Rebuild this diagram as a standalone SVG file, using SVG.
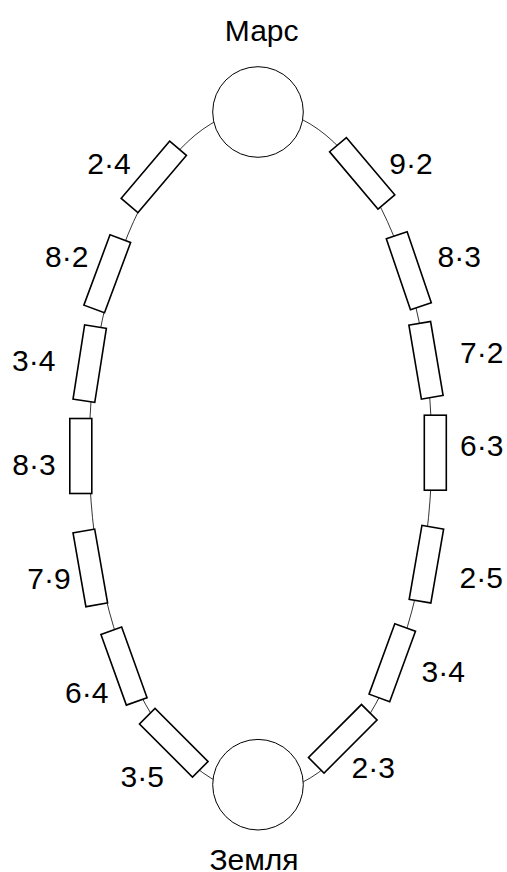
<svg xmlns="http://www.w3.org/2000/svg" width="507" height="872" viewBox="0 0 507 872">
<style>
.lbl{font-family:"Liberation Sans",Arial,sans-serif;font-size:30px;fill:#000;text-anchor:middle}
.seg{fill:#fff;stroke:#000;stroke-width:1.6}
.planet{fill:#fff;stroke:#000;stroke-width:1}
.orbit{fill:none;stroke:#000;stroke-width:0.8}
</style>
<defs>
<rect id="r" class="seg" x="-11" y="-37.5" width="22" height="75"/>
</defs>
<rect width="507" height="872" fill="#fff"/>
<g id="connectors">
<ellipse class="orbit" cx="260.5" cy="451" rx="171.3" ry="341.7"/>
</g>
<g id="mars">
<circle class="planet" cx="258" cy="112" r="45.3"/>
<text class="lbl" x="261.7" y="40.7">Марс</text>
</g>
<g id="earth">
<circle class="planet" cx="258" cy="784.7" r="45.3"/>
<text class="lbl" x="254" y="870">Земля</text>
</g>
<g id="s1"><use href="#r" transform="translate(153.8,176.8) rotate(40.3)"/><text class="lbl" x="109" y="174">2·4</text></g>
<g id="s2"><use href="#r" transform="translate(362.2,173.3) rotate(-40.2)"/><text class="lbl" x="411" y="174">9·2</text></g>
<g id="s3"><use href="#r" transform="translate(107.25,273.8) rotate(20.4)"/><text class="lbl" x="66.7" y="266.7">8·2</text></g>
<g id="s4"><use href="#r" transform="translate(408.8,270.7) rotate(-18.8)"/><text class="lbl" x="459.2" y="266.7">8·3</text></g>
<g id="s5"><use href="#r" transform="translate(89.7,363.7) rotate(8.9)"/><text class="lbl" x="33.7" y="371">3·4</text></g>
<g id="s6"><use href="#r" transform="translate(426,360.3) rotate(-9.6)"/><text class="lbl" x="481.7" y="362.7">7·2</text></g>
<g id="s7"><use href="#r" transform="translate(80.8,456)"/><text class="lbl" x="34" y="475">8·3</text></g>
<g id="s8"><use href="#r" transform="translate(435.3,452.7)"/><text class="lbl" x="481.7" y="455.7">6·3</text></g>
<g id="s9"><use href="#r" transform="translate(90.3,567.9) rotate(-9.9)"/><text class="lbl" x="49" y="589.3">7·9</text></g>
<g id="s10"><use href="#r" transform="translate(426.4,564.2) rotate(9.8)"/><text class="lbl" x="481.3" y="588.3">2·5</text></g>
<g id="s11"><use href="#r" transform="translate(124,666.1) rotate(-19.8)"/><text class="lbl" x="86.7" y="702.7">6·4</text></g>
<g id="s12"><use href="#r" transform="translate(392.25,662.7) rotate(20.1)"/><text class="lbl" x="443.3" y="682.3">3·4</text></g>
<g id="s13"><use href="#r" transform="translate(173.75,742.75) rotate(-45)"/><text class="lbl" x="142.3" y="786.7">3·5</text></g>
<g id="s14"><use href="#r" transform="translate(342.75,738.8) rotate(45)"/><text class="lbl" x="373.3" y="777.7">2·3</text></g>
</svg>
